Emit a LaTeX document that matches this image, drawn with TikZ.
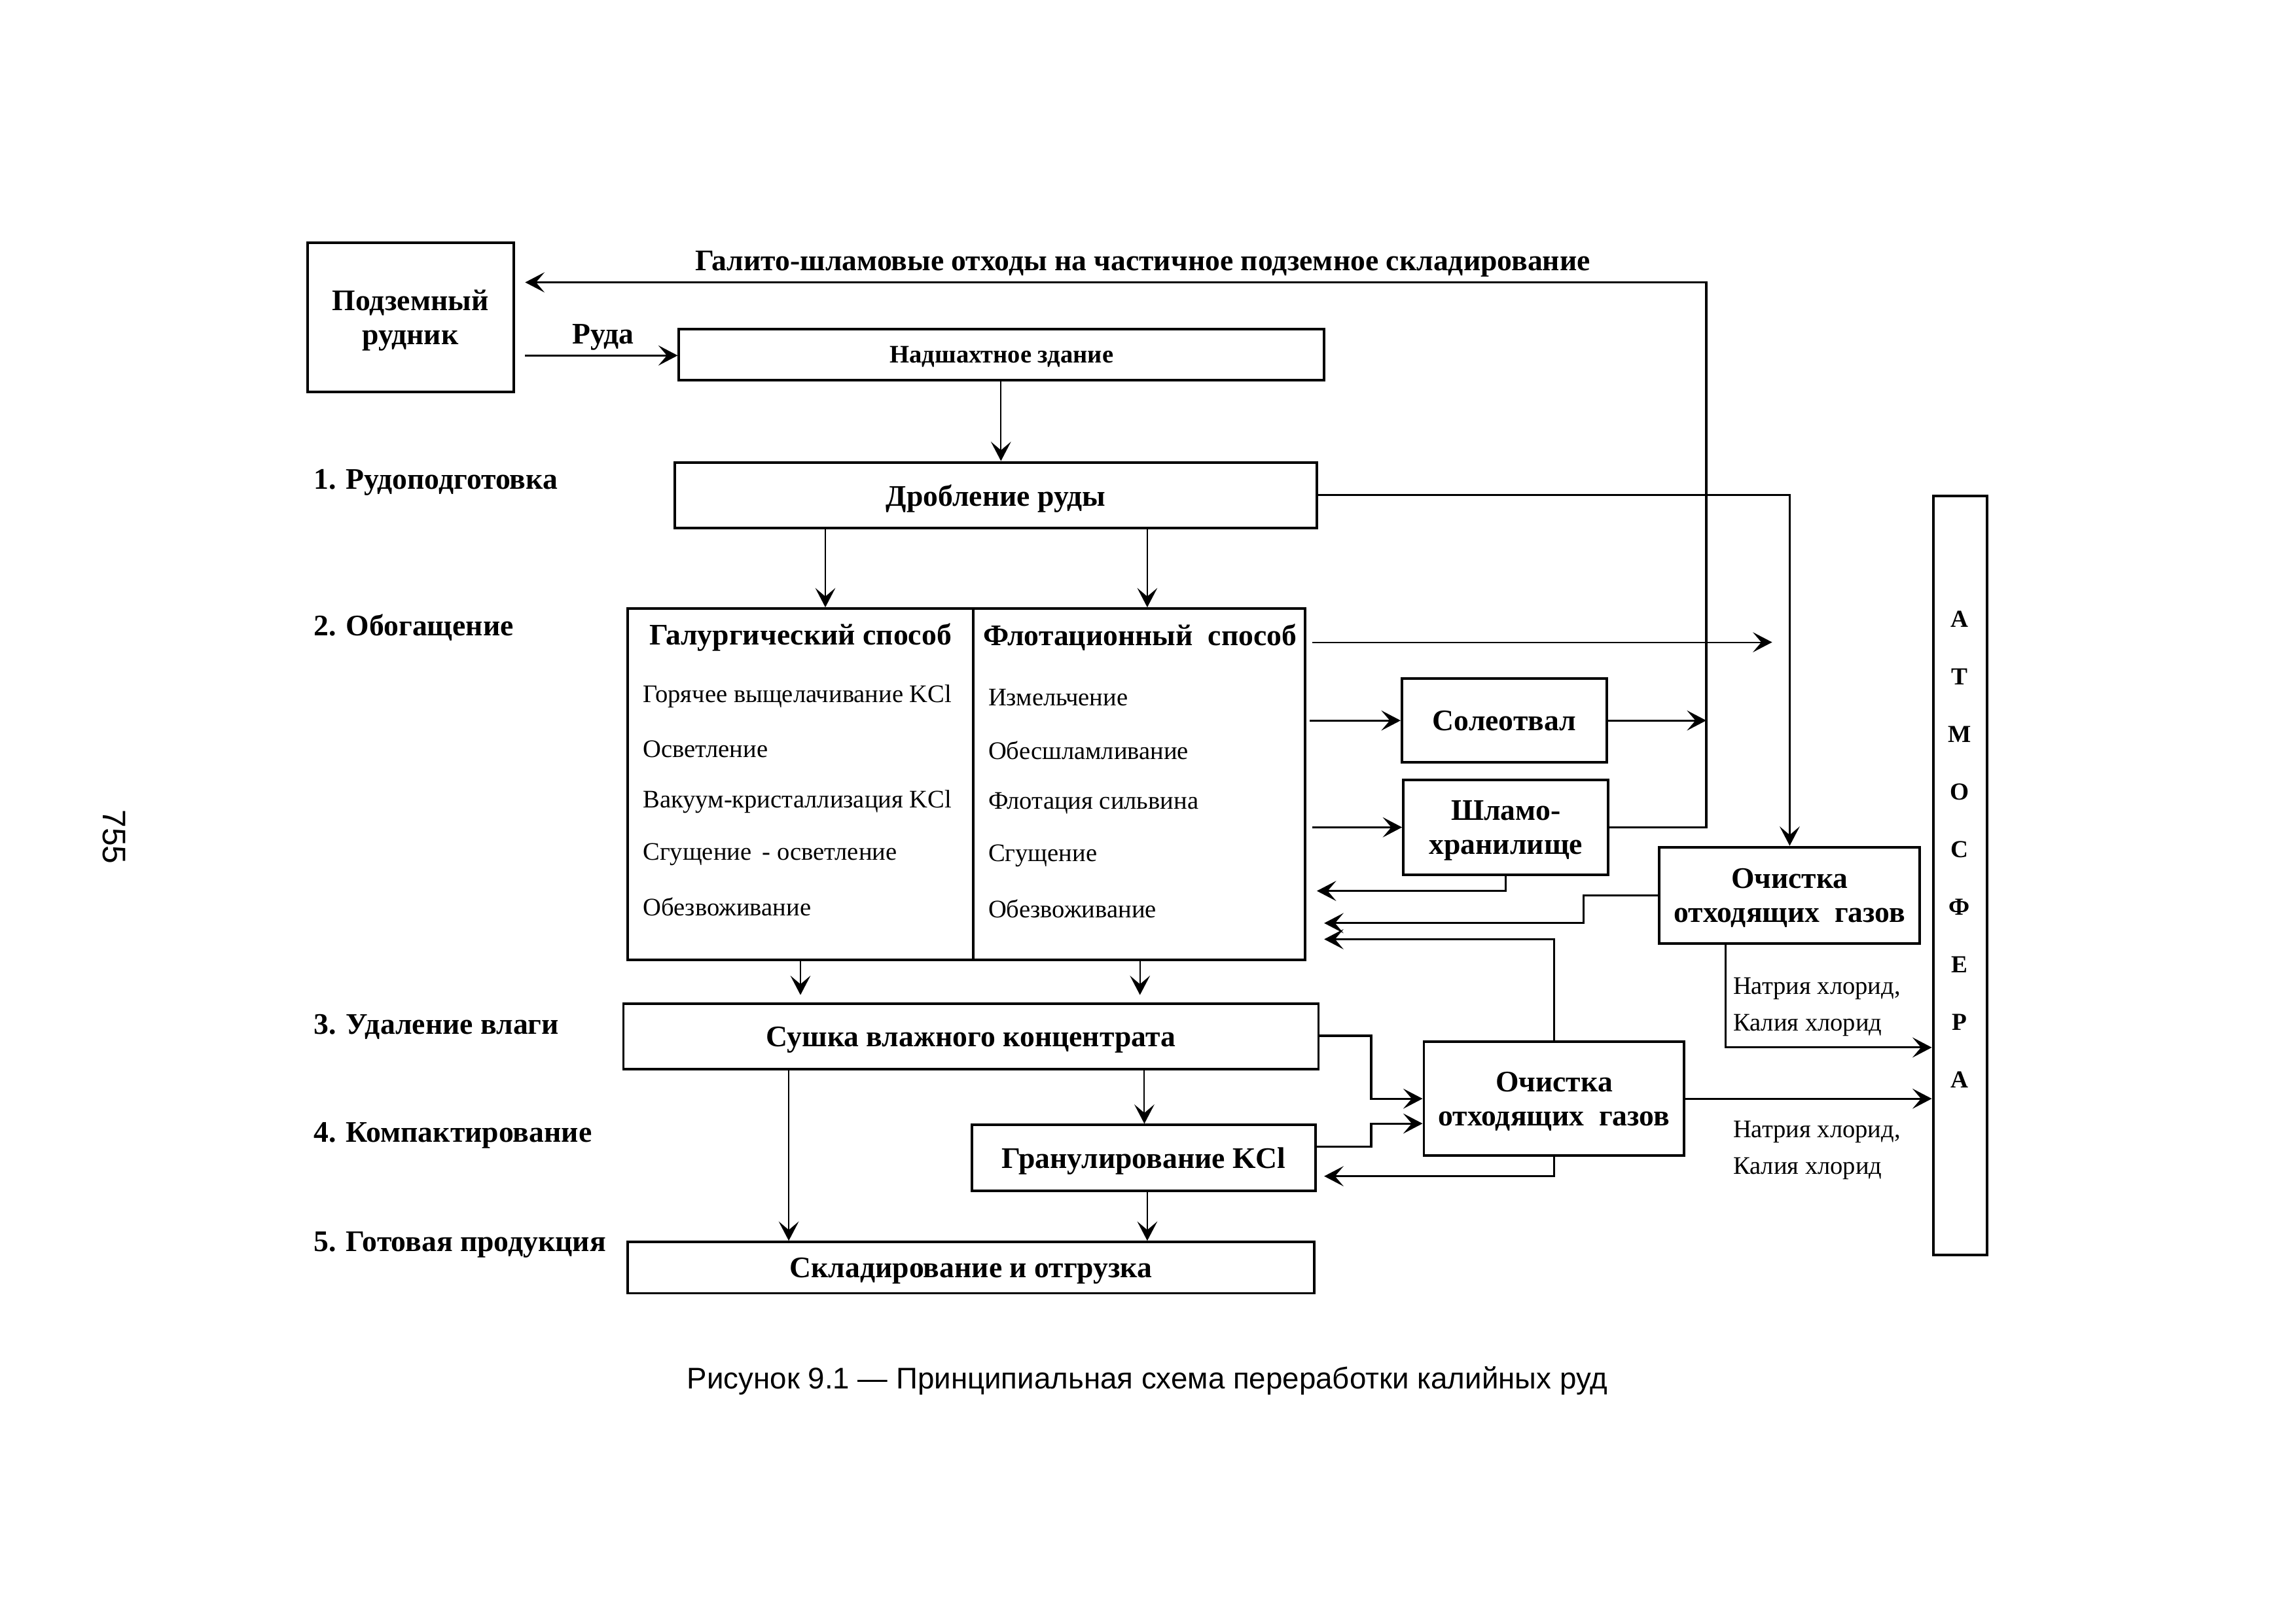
\documentclass[tikz,border=0pt]{standalone}
\usepackage{fontspec}
\setmainfont{Liberation Serif}
\newfontfamily\capfont{Liberation Sans}
\usetikzlibrary{arrows.meta,calc}
\def\unitpx{0.18929mm}
\tikzset{
  bx/.style n args={4}{minimum width={(#3-#1)*\unitpx}, minimum height={(#4-#2)*\unitpx}, at={({(#1+#3)/2},{(#2+#4)/2})}},
  box/.style={draw, line width=0.95pt, inner sep=0pt, align=center, text depth=0pt, font=\bfseries\fontsize{11}{12.5}\selectfont},
  tip/.style={-{Stealth[length=2.5mm,width=2.6mm,inset=1.1mm]}},
  arr/.style={line width=0.75pt, tip},
  tarr/.style={line width=0.5pt, tip},
  bl/.style={font=\bfseries\fontsize{11}{13}\selectfont, inner sep=0pt, yshift=-1.5*\unitpx},
  item/.style={font=\fontsize{9.3}{11}\selectfont, anchor=west, inner sep=0pt, yshift=-1*\unitpx},
  stage/.style={font=\bfseries\fontsize{11}{13}\selectfont, anchor=west, inner sep=0pt, yshift=-2*\unitpx},
  salt/.style={font=\fontsize{9.3}{13.5}\selectfont, anchor=north west, align=left, inner sep=0pt, yshift=-3*\unitpx},
  atl/.style={font=\bfseries\fontsize{9}{11}\selectfont, inner sep=0pt}
}
\begin{document}
\begin{tikzpicture}[x=0.18929mm, y=-0.18929mm]
\useasboundingbox (-1,-1) rectangle (1568,1108.7);
% boxes
\node[box, bx={209}{165}{350}{267}] (mine) {Подземный\\рудник};
\node[box, bx={463}{224}{904}{259}, font=\bfseries\fontsize{9.3}{11}\selectfont] (nadsh) {Надшахтное здание};
\node[box, bx={460}{315}{899}{360}] (drob) {Дробление руды};
\node[box, bx={428}{415}{664}{655}] (galb) {};
\node[box, bx={664}{415}{891}{655}] (flotb) {};
\node[box, bx={957}{463}{1097}{520}] (soleo) {Солеотвал};
\node[box, bx={958}{532}{1098}{597}] (shlam) {Шламо-\\хранилище};
\node[box, bx={1133}{578}{1311}{644}] (och1) {Очистка\\отходящих\ \ газов};
\node[box, bx={1320}{338}{1357}{857}] (atm) {};
\node[box, bx={425}{685}{900}{730}] (sush) {Сушка влажного концентрата};
\node[box, bx={972}{711}{1150}{789}] (och2) {Очистка\\отходящих\ \ газов};
\node[box, bx={663}{768}{898}{813}] (gran) {Гранулирование KCl};
\node[box, bx={428}{848}{897}{883}] (sklad) {Складирование и отгрузка};
% texts
\node[bl] (galtitle) at (780,178) {Галито-шламовые отходы на частичное подземное складирование};
\node[bl] (ruda) at (411,228) {Руда};
\node[stage] (s1) at (213,327) {1. Рудоподготовка};
\node[stage] (s2) at (213,426) {2. Обогащение};
\node[stage] (s3) at (213,699) {3. Удаление влаги};
\node[stage] (s4) at (213,773) {4. Компактирование};
\node[stage] (s5) at (213,848) {5. Готовая продукция};
\node[bl] (gt) at (546,433) {Галургический способ};
\node[item] (g1) at (438,474) {Горячее выщелачивание KCl};
\node[item] (g2) at (438,510) {Осветление};
\node[item] (g3) at (438,546) {Вакуум-кристаллизация KCl};
\node[item] (g4) at (438,582) {Сгущение \,- осветление};
\node[item] (g5) at (438,618) {Обезвоживание};
\node[bl] (ft) at (778,433) {Флотационный\ \ способ};
\node[item] (f1) at (674,475) {Измельчение};
\node[item] (f2) at (674,511) {Обесшламливание};
\node[item] (f3) at (674,547) {Флотация сильвина};
\node[item] (f4) at (674,583) {Сгущение};
\node[item] (f5) at (674,619) {Обезвоживание};
\node[salt] (na1) at (1183,664) {Натрия хлорид,\\Калия хлорид};
\node[salt] (na2) at (1183,762) {Натрия хлорид,\\Калия хлорид};
\foreach \l [count=\i] in {А,Т,М,О,С,Ф,Е,Р,А}
  \node[atl] (a\i) at (1338,{422+39.4*(\i-1)}) {\l};
\node[font=\capfont\fontsize{12}{14}\selectfont, rotate=-90, inner sep=0pt] (page) at (77,571) {755};
\node[font=\capfont\fontsize{11}{13}\selectfont, inner sep=0pt, yshift=-2*\unitpx] (cap) at (783,941) {Рисунок 9.1 — Принципиальная схема переработки калийных руд};
% coordinates
\coordinate (ret) at (1165,192);
\coordinate (free) at (1210,438);
% connectors
\draw[arr, shorten >=7*\unitpx] (shlam.east) -| (ret) -- (mine.east |- ret);
\draw[arr] (soleo.east) -- (soleo.east -| ret);
\draw[arr, shorten <=7*\unitpx] (mine.east |- 0,242) -- (nadsh.west |- 0,242);
\draw[tarr] (nadsh.south -| 683,0) -- (drob.north -| 683,0);
\draw[arr] (drob.east) -| (och1.north);
\draw[tarr] (drob.south -| 563,0) -- (galb.north -| 563,0);
\draw[tarr] (drob.south -| 783,0) -- (flotb.north -| 783,0);
\draw[tarr] ([xshift=4*\unitpx]flotb.east |- 0,438) -- (free);
\draw[arr] ([xshift=2*\unitpx]flotb.east |- soleo.west) -- (soleo.west);
\draw[arr] ([xshift=4*\unitpx]flotb.east |- shlam.west) -- (shlam.west);
\draw[arr, shorten >=7*\unitpx] (shlam.south) |- (flotb.east |- 0,608);
\draw[arr, shorten >=12*\unitpx] (och1.west) -- (1081,0 |- och1.west) |- (flotb.east |- 0,630);
\draw[arr, shorten >=12*\unitpx] (och2.north -| 1061,0) |- (flotb.east |- 0,641);
\draw[arr] (och1.south -| 1178,0) |- (atm.west |- 0,715);
\draw[arr] (sush.east |- 0,707) -| (936,0 |- och2.west) -- (och2.west);
\draw[arr] (gran.east |- 0,783) -| (936,0 |- 0,767) -- (och2.west |- 0,767);
\draw[arr, shorten >=5*\unitpx] (och2.south -| 1061,0) |- (gran.east |- 0,803);
\draw[arr] (och2.east) -- (atm.west |- och2.east);
\draw[tarr, shorten >=5*\unitpx] (galb.south -| 546,0) -- (sush.north -| 546,0);
\draw[tarr, shorten >=5*\unitpx] (flotb.south -| 778,0) -- (sush.north -| 778,0);
\draw[tarr] (sush.south -| 781,0) -- (gran.north -| 781,0);
\draw[tarr] (sush.south -| 538,0) -- (sklad.north -| 538,0);
\draw[tarr] (gran.south -| 783,0) -- (sklad.north -| 783,0);
\end{tikzpicture}
\end{document}
